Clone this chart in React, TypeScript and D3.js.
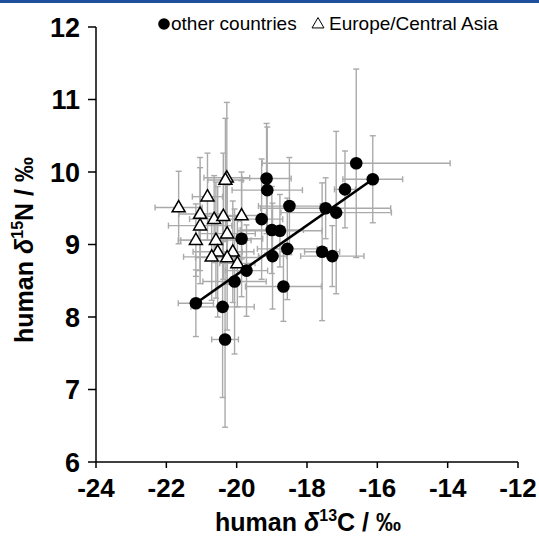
import React from "react";
import * as d3 from "d3";

// other countries: x (δ13C), y (δ15N), x error, y error
const otherX = [-16.6, -16.13, -16.92, -19.15, -19.13, -18.5, -17.47, -17.17, -19.29, -19.0, -18.77, -18.56, -18.98, -17.57, -17.28, -18.67, -19.86, -19.72, -20.06, -21.16, -20.4, -20.33];
const otherY = [10.12, 9.9, 9.76, 9.91, 9.75, 9.53, 9.5, 9.44, 9.35, 9.2, 9.19, 8.94, 8.84, 8.9, 8.84, 8.42, 9.08, 8.64, 8.49, 8.19, 8.14, 7.69];
const otherXErr = [2.67, 0.85, 0.3, 0.7, 1.0, 0.88, 1.85, 1.57, 0.6, 0.9, 1.2, 0.85, 0.4, 0.5, 0.9, 1.08, 0.6, 0.6, 0.9, 0.5, 0.9, 0.38];
const otherYErr = [1.3, 0.6, 0.53, 0.76, 0.87, 0.67, 0.42, 1.12, 0.83, 0.6, 0.5, 0.7, 0.73, 0.95, 0.42, 0.48, 0.8, 0.63, 1.0, 0.46, 1.25, 1.21];

// Europe/Central Asia
const euroX = [-20.28, -20.32, -20.83, -21.65, -21.04, -20.64, -20.38, -19.86, -21.04, -20.27, -21.16, -20.59, -20.54, -20.11, -20.71, -20.27, -19.98];
const euroY = [9.92, 9.89, 9.66, 9.51, 9.42, 9.35, 9.39, 9.4, 9.26, 9.15, 9.06, 9.06, 8.9, 8.9, 8.83, 8.82, 8.74];
const euroXErr = [0.65, 0.5, 0.43, 0.67, 0.6, 0.7, 0.5, 0.7, 0.9, 0.8, 0.5, 1.0, 0.7, 0.6, 0.8, 0.9, 0.5];
const euroYErr = [1.04, 0.85, 0.6, 0.5, 0.78, 0.6, 0.87, 0.6, 0.8, 0.7, 0.5, 0.8, 0.9, 0.7, 0.6, 1.0, 0.6];

// regression line endpoints (δ13C, δ15N)
const fitX = [-21.16, -16.13];
const fitY = [8.19, 9.9];

const xTicks = [-24, -22, -20, -18, -16, -14, -12];
const yTicks = [6, 7, 8, 9, 10, 11, 12];

const W = 539;
const H = 536;

export default function App() {
  const x = d3.scaleLinear().domain([-24, -12]).range([96, 518]);
  const y = d3.scaleLinear().domain([6, 12]).range([462, 27]);
  const font = "Liberation Sans, Arial, Helvetica, sans-serif";
  const cap = 3;
  const errColor = "#aaaaaa";

  const errBars = (xs: number[], ys: number[], xe: number[], ye: number[], key: string) =>
    xs.map((xv, i) => {
      const cx = x(xv);
      const cy = y(ys[i]);
      const x0 = x(xv - xe[i]);
      const x1 = x(xv + xe[i]);
      const y0 = y(ys[i] + ye[i]);
      const y1 = y(ys[i] - ye[i]);
      return (
        <g key={key + i} stroke={errColor} strokeWidth={1.4} fill="none">
          <line x1={x0} x2={x1} y1={cy} y2={cy} />
          <line x1={x0} x2={x0} y1={cy - cap} y2={cy + cap} />
          <line x1={x1} x2={x1} y1={cy - cap} y2={cy + cap} />
          <line x1={cx} x2={cx} y1={y0} y2={y1} />
          <line x1={cx - cap} x2={cx + cap} y1={y0} y2={y0} />
          <line x1={cx - cap} x2={cx + cap} y1={y1} y2={y1} />
        </g>
      );
    });

  const tri = (cx: number, cy: number, s: number) => {
    const h = s * 0.866;
    return `M${cx},${cy - h * 0.62} L${cx + s / 2},${cy + h * 0.38} L${cx - s / 2},${cy + h * 0.38} Z`;
  };

  const fitLine = d3
    .line<number>()
    .x((d) => x(d))
    .y((_, i) => y(fitY[i]));

  return (
    <svg width={W} height={H} style={{ position: "absolute", left: 0, top: 0 }} fontFamily={font}>
      <rect x={0} y={0} width={W} height={H} fill="#fff" />
      <rect x={0} y={0} width={W} height={3} fill="#1f4f9a" />

      {/* error bars */}
      {errBars(euroX, euroY, euroXErr, euroYErr, "e")}
      {errBars(otherX, otherY, otherXErr, otherYErr, "o")}

      {/* regression line */}
      <path d={fitLine(fitX) || ""} stroke="#000" strokeWidth={2.6} fill="none" />

      {/* triangles */}
      {euroX.map((xv, i) => (
        <path key={"t" + i} d={tri(x(xv), y(euroY[i]), 13)} fill="#fff" stroke="#000" strokeWidth={1.5} />
      ))}
      {/* circles */}
      {otherX.map((xv, i) => (
        <circle key={"c" + i} cx={x(xv)} cy={y(otherY[i])} r={6.3} fill="#000" />
      ))}

      {/* axes */}
      <g stroke="#000" strokeWidth={1.5}>
        <line x1={96} x2={96} y1={y(12)} y2={y(6)} />
        <line x1={96} x2={518} y1={y(6)} y2={y(6)} />
        {yTicks.map((t) => (
          <line key={"yt" + t} x1={88} x2={96} y1={y(t)} y2={y(t)} />
        ))}
        {xTicks.map((t) => (
          <line key={"xt" + t} x1={x(t)} x2={x(t)} y1={462} y2={468} />
        ))}
      </g>
      {yTicks.map((t) => (
        <text key={"yl" + t} x={80} y={y(t) + 9.5} textAnchor="end" fontSize={27} fontWeight="bold">
          {t}
        </text>
      ))}
      {xTicks.map((t) => (
        <text key={"xl" + t} x={x(t)} y={497} textAnchor="middle" fontSize={26} fontWeight="bold">
          {t}
        </text>
      ))}

      {/* axis titles */}
      <text x={308} y={531} textAnchor="middle" fontSize={25} fontWeight="bold">
        human <tspan fontStyle="italic">δ</tspan>
        <tspan fontSize={16} dy={-10}>13</tspan>
        <tspan dy={10}>C / ‰</tspan>
      </text>
      <text transform="translate(33,250) rotate(-90)" textAnchor="middle" fontSize={25} fontWeight="bold">
        human <tspan fontStyle="italic">δ</tspan>
        <tspan fontSize={16} dy={-10}>15</tspan>
        <tspan dy={10}>N / ‰</tspan>
      </text>

      {/* legend */}
      <circle cx={164} cy={24} r={5.8} fill="#000" />
      <text x={171} y={30} fontSize={19}>other countries</text>
      <path d={tri(318, 24, 12)} fill="#fff" stroke="#000" strokeWidth={1} />
      <text x={329} y={30} fontSize={19}>Europe/Central Asia</text>
    </svg>
  );
}
